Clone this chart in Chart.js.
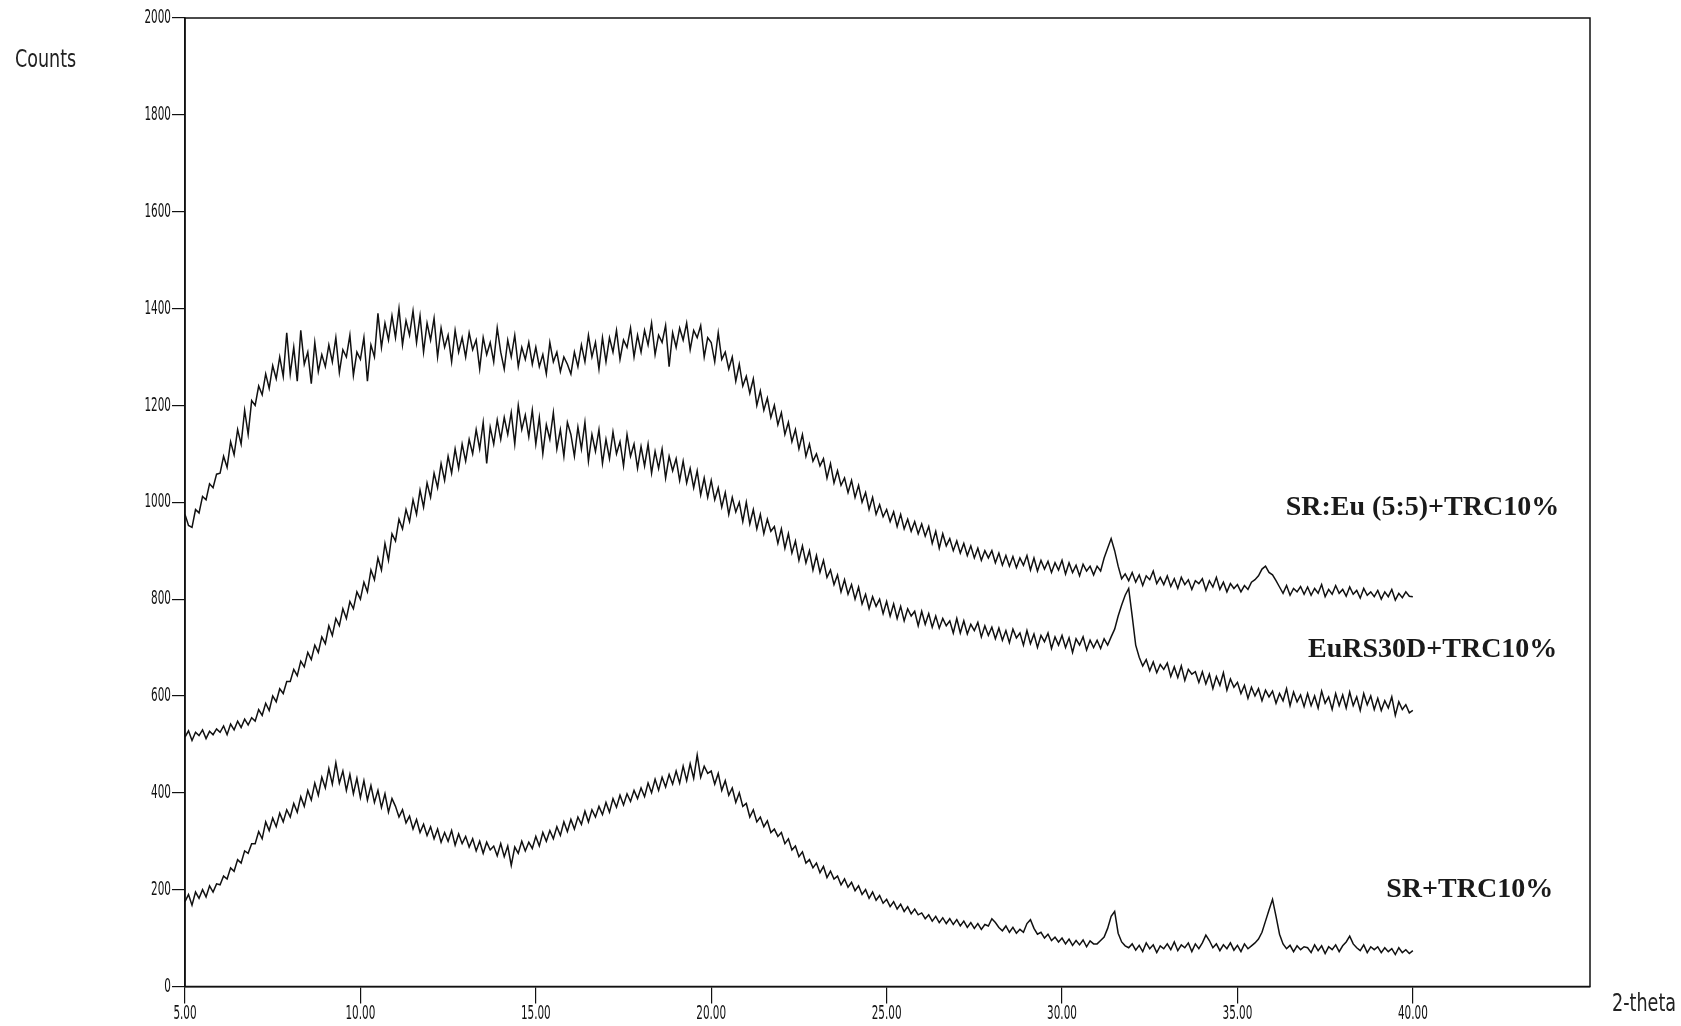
<!DOCTYPE html>
<html>
<head>
<meta charset="utf-8">
<script src="https://cdn.jsdelivr.net/npm/chart.js@4/dist/chart.umd.min.js"></script>
<style>
  body { margin: 0; background: #fff; }
  canvas { display: block; }
</style>
</head>
<body>
<canvas id="myChart" width="1681" height="1026"></canvas>
<script>
// 2-theta sampling: 5.00 .. 40.00 every 0.1 deg
const twoThetaStart = 5.0
const twoThetaStep = 0.1

const xTicks = [5, 10, 15, 20, 25, 30, 35, 40]
const yTicks = [0, 200, 400, 600, 800, 1000, 1200, 1400, 1600, 1800, 2000]

const seriesNames = ['SR:Eu (5:5)+TRC10%', 'EuRS30D+TRC10%', 'SR+TRC10%']

// SR:Eu (5:5)+TRC10%  (one row per degree)
const countsSrEu = [
  975, 952, 948, 985, 978, 1012, 1005, 1038, 1030, 1058,
  1060, 1095, 1072, 1125, 1098, 1150, 1120, 1190, 1140, 1210,
  1200, 1240, 1222, 1265, 1235, 1282, 1255, 1300, 1260, 1350,
  1265, 1320, 1250, 1355, 1285, 1310, 1245, 1330, 1270, 1305,
  1280, 1325, 1290, 1340, 1268, 1315, 1300, 1345, 1262, 1310,
  1295, 1340, 1250, 1325, 1300, 1390, 1320, 1370, 1335, 1385,
  1340, 1400, 1325, 1375, 1345, 1395, 1330, 1385, 1310, 1370,
  1335, 1380, 1300, 1360, 1320, 1345, 1290, 1355, 1310, 1340,
  1300, 1350, 1315, 1335, 1275, 1340, 1305, 1330, 1290, 1360,
  1310, 1275, 1335, 1300, 1345, 1280, 1320, 1295, 1330, 1285,
  1320, 1280, 1305, 1265, 1330, 1290, 1310, 1270, 1300, 1285,
  1265, 1310, 1280, 1325, 1290, 1345, 1300, 1330, 1275, 1340,
  1290, 1340, 1310, 1355, 1295, 1335, 1320, 1360, 1300, 1345,
  1310, 1355, 1325, 1370, 1305, 1345, 1330, 1365, 1280, 1350,
  1320, 1360, 1335, 1370, 1315, 1355, 1340, 1365, 1300, 1340,
  1330, 1290, 1350, 1295, 1310, 1275, 1300, 1250, 1285, 1240,
  1260, 1225, 1255, 1200, 1230, 1190, 1215, 1175, 1200, 1160,
  1185, 1140, 1165, 1125, 1150, 1110, 1140, 1095, 1120, 1085,
  1100, 1075, 1090, 1050, 1080, 1040, 1065, 1035, 1050, 1020,
  1045, 1010, 1035, 1000, 1020, 985, 1010, 975, 995, 970,
  985, 960, 980, 950, 975, 945, 965, 940, 960, 935,
  955, 930, 950, 915, 940, 905, 935, 910, 925, 900,
  920, 895, 915, 890, 910, 885, 905, 880, 900, 885,
  900, 875, 895, 870, 890, 868, 888, 865, 885, 870,
  890, 860, 885, 858, 880, 862, 878, 855, 875, 860,
  880, 852, 875, 855, 870, 848, 872, 858, 868, 850,
  868, 858, 885, 905, 925, 900, 868, 842, 852, 838,
  855, 835, 850, 828, 848, 840, 858, 832, 845, 830,
  848, 826, 842, 822, 845, 830, 840, 820, 838, 832,
  842, 818, 838, 825, 845, 820, 835, 815, 832, 822,
  830, 815, 828, 820, 835, 840, 848, 862, 868, 855,
  850, 838, 825, 812, 828, 808, 822, 815, 826, 810,
  825, 808, 822, 812, 830, 805, 820, 810, 828, 812,
  820, 806, 825, 810, 818, 802, 822, 808, 815, 805,
  818, 800, 815, 805, 820, 798, 812, 803, 815, 806,
  805
]

// EuRS30D+TRC10%
const countsEuRs = [
  515, 528, 508, 525, 518, 530, 512, 527, 520, 532,
  525, 538, 520, 542, 530, 548, 535, 552, 540, 555,
  548, 572, 560, 585, 570, 600, 588, 615, 605, 630,
  630, 655, 642, 672, 660, 690, 675, 705, 690, 722,
  708, 745, 725, 760, 745, 780, 760, 795, 780, 815,
  800, 835, 815, 860, 840, 885, 860, 915, 880, 935,
  920, 965, 945, 985, 960, 1005, 975, 1025, 990, 1040,
  1010, 1060, 1030, 1080, 1045, 1095, 1060, 1110, 1070, 1120,
  1085, 1130, 1100, 1150, 1110, 1165, 1080, 1155, 1120, 1170,
  1130, 1175, 1140, 1185, 1120, 1200, 1150, 1180, 1135, 1190,
  1120, 1175, 1100, 1160, 1130, 1185, 1110, 1150, 1095, 1165,
  1140, 1095, 1155, 1110, 1165, 1085, 1140, 1105, 1150, 1080,
  1130, 1090, 1145, 1100, 1125, 1075, 1140, 1095, 1120, 1070,
  1115, 1075, 1120, 1060, 1105, 1070, 1110, 1050, 1095, 1065,
  1090, 1045, 1085, 1040, 1070, 1030, 1065, 1015, 1050, 1010,
  1045, 1005, 1030, 990, 1020, 975, 1010, 980, 1000, 960,
  1000, 955, 985, 945, 975, 935, 965, 940, 950, 915,
  945, 905, 935, 895, 920, 880, 910, 875, 900, 860,
  890, 855, 880, 845, 860, 830, 850, 815, 840, 810,
  830, 800, 825, 790, 810, 780, 805, 785, 800, 770,
  795, 765, 790, 760, 785, 755, 780, 765, 775, 745,
  775, 748, 770, 742, 765, 740, 760, 745, 755, 730,
  760, 730, 755, 728, 748, 735, 752, 722, 745, 725,
  742, 718, 740, 715, 735, 710, 738, 720, 730, 705,
  735, 708, 728, 700, 725, 712, 730, 698, 722, 705,
  725, 700, 720, 690, 718, 705, 722, 695, 715, 700,
  715, 698, 718, 705, 722, 738, 765, 788, 808, 822,
  765, 705, 680, 662, 675, 652, 670, 648, 665, 655,
  668, 640, 660, 638, 662, 632, 655, 645, 650, 628,
  650, 625, 645, 615, 640, 622, 648, 612, 635, 618,
  628, 605, 622, 595, 618, 600, 615, 590, 612, 598,
  610, 585, 605, 590, 615, 580, 608, 588, 602, 578,
  605, 580, 600, 575, 610, 585, 598, 572, 605, 580,
  602, 575, 608, 580, 598, 570, 605, 582, 600, 572,
  595, 570, 590, 575, 598, 560, 588, 572, 582, 565,
  570
]

// SR+TRC10%
const countsSr = [
  175, 190, 168, 195, 182, 200, 185, 208, 195, 212,
  210, 228, 222, 245, 238, 262, 255, 280, 275, 295,
  295, 320, 305, 340, 322, 348, 330, 358, 340, 365,
  350, 378, 360, 392, 372, 405, 385, 420, 395, 432,
  410, 450, 418, 462, 420, 445, 405, 438, 398, 430,
  390, 425, 385, 415, 380, 405, 370, 398, 360, 388,
  372, 350, 365, 338, 352, 325, 345, 318, 335, 312,
  330, 305, 325, 298, 318, 300, 322, 292, 315, 295,
  310, 288, 305, 280, 300, 275, 298, 282, 290, 270,
  295, 268, 290, 250, 288, 275, 300, 280, 298, 285,
  310, 290, 318, 300, 322, 305, 330, 312, 340, 320,
  345, 325, 350, 335, 362, 340, 365, 350, 372, 355,
  380, 360, 388, 370, 395, 375, 398, 382, 405, 388,
  410, 392, 420, 400, 428, 405, 432, 412, 438, 418,
  445, 420, 455, 425, 460, 430, 478, 432, 455, 440,
  445, 418, 440, 405, 425, 395, 410, 380, 400, 372,
  378, 350, 365, 340, 350, 330, 342, 318, 325, 310,
  318, 295, 305, 282, 290, 268, 278, 255, 262, 245,
  255, 235, 248, 225, 238, 222, 228, 210, 222, 205,
  215, 198, 208, 190, 200, 182, 195, 178, 188, 172,
  180, 165, 175, 160, 170, 155, 165, 150, 160, 148,
  152, 140, 148, 135, 145, 132, 142, 130, 140, 128,
  138, 125, 135, 122, 132, 120, 130, 118, 128, 125,
  140, 132, 122, 115, 125, 112, 122, 110, 118, 112,
  130, 138, 120, 108, 112, 100, 108, 95, 102, 92,
  100, 88, 98, 85, 95, 86, 96, 82, 94, 88,
  88, 95, 102, 120, 145, 155, 110, 92, 84, 80,
  88, 75, 85, 72, 90, 78, 86, 70, 84, 78,
  88, 76, 92, 74, 86, 80, 90, 72, 88, 78,
  90, 106, 95, 80, 88, 74, 86, 78, 90, 75,
  85, 72, 88, 78, 84, 90, 98, 112, 135, 158,
  180, 145, 108, 88, 78, 85, 72, 84, 76, 82,
  80, 70, 86, 74, 84, 68, 82, 76, 86, 72,
  84, 92, 104, 88, 80, 74, 86, 70, 82, 76,
  82, 70, 80, 72, 78, 66, 80, 70, 76, 68,
  74
]

const narrowFont = '"DejaVu Sans Condensed", "Liberation Sans Narrow", "DejaVu Sans", sans-serif'
const serifFont = '"Liberation Serif", "DejaVu Serif", serif'

function toPoints(arr){
    return arr.map((y, i) => ({x: +(twoThetaStart + i * twoThetaStep).toFixed(2), y: y}))
}

// plotter text is tall and narrow: squeeze it sideways
function narrowText(ctx, text, x, y, squeeze){
    ctx.save()
    ctx.translate(x, y)
    ctx.scale(squeeze, 1)
    ctx.fillText(text, 0, 0)
    ctx.restore()
}

// frame round the plot, tick labels, axis captions and series names
const decorations = {
    id: 'decorations',
    afterDraw(chart){
        const {ctx, chartArea, scales} = chart
        ctx.save()
        ctx.strokeStyle = '#111'
        ctx.lineWidth = 1.5
        ctx.strokeRect(chartArea.left, chartArea.top, chartArea.right - chartArea.left, chartArea.bottom - chartArea.top)

        ctx.fillStyle = '#111'
        ctx.font = '20px ' + narrowFont
        ctx.textBaseline = 'middle'
        ctx.textAlign = 'right'
        yTicks.forEach(v => narrowText(ctx, String(v), 171, scales.y.getPixelForValue(v), 0.58))
        ctx.textAlign = 'center'
        xTicks.forEach(v => narrowText(ctx, v.toFixed(2), scales.x.getPixelForValue(v), 1014, 0.58))

        ctx.fillStyle = '#222'
        ctx.font = '25px ' + narrowFont
        ctx.textAlign = 'left'
        ctx.textBaseline = 'alphabetic'
        narrowText(ctx, 'Counts', 15, 67, 0.78)
        ctx.textAlign = 'right'
        narrowText(ctx, '2-theta', 1676, 1011, 0.78)

        // series names, anchored in data units
        const spots = [[44.17, 974], [44.12, 681], [44.0, 185]]
        ctx.font = 'bold 28px ' + serifFont
        ctx.fillStyle = '#1a1a1a'
        ctx.textAlign = 'right'
        seriesNames.forEach((name, i) => {
            ctx.fillText(name, scales.x.getPixelForValue(spots[i][0]), scales.y.getPixelForValue(spots[i][1]))
        })
        ctx.restore()
    }
}

const lineStyle = {
    borderColor: '#111',
    borderWidth: 1.5,
    pointRadius: 0,
    tension: 0,
    fill: false
}

new Chart(document.getElementById('myChart'), {
    type: 'line',
    data: {
        datasets: [
            Object.assign({label: seriesNames[0], data: toPoints(countsSrEu)}, lineStyle),
            Object.assign({label: seriesNames[1], data: toPoints(countsEuRs)}, lineStyle),
            Object.assign({label: seriesNames[2], data: toPoints(countsSr)}, lineStyle)
        ]
    },
    options: {
        responsive: false,
        animation: false,
        events: [],
        layout: {padding: {top: 18, right: 91, left: 0, bottom: 0}},
        plugins: {
            legend: {display: false},
            tooltip: {enabled: false}
        },
        scales: {
            x: {
                type: 'linear',
                min: 5,
                max: 45.05,
                afterBuildTicks: scale => { scale.ticks = xTicks.map(v => ({value: v})) },
                afterFit: scale => { scale.height = 39.5 },
                grid: {drawOnChartArea: false, drawTicks: true, tickLength: 17, color: '#111', lineWidth: 1.2},
                border: {display: true, color: '#111', width: 1.5},
                ticks: {display: false}
            },
            y: {
                type: 'linear',
                min: 0,
                max: 2000,
                afterBuildTicks: scale => { scale.ticks = yTicks.map(v => ({value: v})) },
                afterFit: scale => { scale.width = 185 },
                grid: {drawOnChartArea: false, drawTicks: true, tickLength: 13, color: '#111', lineWidth: 1.2},
                border: {display: true, color: '#111', width: 1.5},
                ticks: {display: false}
            }
        }
    },
    plugins: [decorations]
})
</script>
</body>
</html>
